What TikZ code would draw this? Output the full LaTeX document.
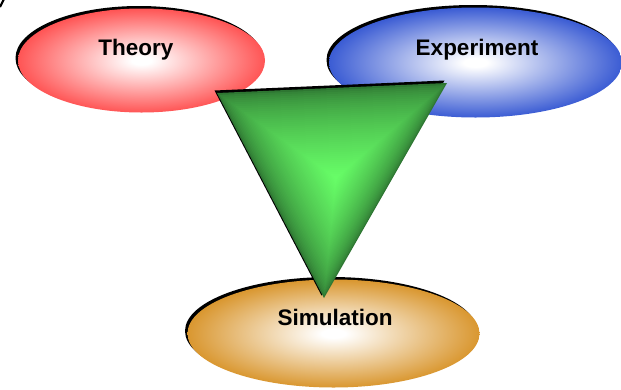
\documentclass[tikz,border=0pt]{standalone}
\usepackage{fontspec}
\setmainfont{Liberation Sans}
\usetikzlibrary{shapes.geometric,calc}
\definecolor{ellred}{RGB}{255,70,70}
\definecolor{ellblue}{RGB}{42,78,208}
\definecolor{ellorange}{RGB}{214,142,30}
\definecolor{gdark}{RGB}{46,118,50}
\definecolor{gbright}{RGB}{104,255,104}
\pgfdeclareradialshading{redsh}{\pgfpointorigin}{color(0bp)=(white); color(2bp)=(white); color(27bp)=(ellred); color(50bp)=(ellred)}
\pgfdeclareradialshading{bluesh}{\pgfpointorigin}{color(0bp)=(white); color(2bp)=(white); color(27bp)=(ellblue); color(50bp)=(ellblue)}
\pgfdeclareradialshading{orangesh}{\pgfpointorigin}{color(0bp)=(white); color(2bp)=(white); color(27bp)=(ellorange); color(50bp)=(ellorange)}
\tikzset{
  ell/.style={ellipse, inner sep=0pt, draw=none},
  ellshadow/.style={ell, fill=black},
  lbl/.style={font=\bfseries\fontsize{22.5}{26}\selectfont, inner sep=0pt, anchor=base}
}
\begin{document}
\begin{tikzpicture}[x=1pt,y=-1pt]
\useasboundingbox (0,0) rectangle (621,389);
% corner fragment
\draw[line width=2.2pt] (0,7) .. controls (1.5,3) .. (4,-1);
% Theory
\node[ellshadow, minimum width=247pt, minimum height=104pt] (thsh) at (139,58) {};
\node[ell, shading=redsh, minimum width=247pt, minimum height=104pt] (theory) at (141.5,60.5) {};
% Experiment
\node[ellshadow, minimum width=293pt, minimum height=110pt] (exsh) at (473,60) {};
\node[ell, shading=bluesh, minimum width=293pt, minimum height=110pt] (experiment) at (475.5,62.5) {};
% Simulation
\node[ellshadow, minimum width=292pt, minimum height=108pt] (simsh) at (331,331) {};
\node[ell, shading=orangesh, minimum width=292pt, minimum height=108pt] (simulation) at (333.5,333.5) {};
% labels
\node[lbl] (ltheory) at (136,55) {Theory};
\node[lbl] (lexp) at (477,55) {Experiment};
\node[lbl] (lsim) at (335,325) {Simulation};
% triangle
\coordinate (t1) at (217,93);
\coordinate (t2) at (447,83);
\coordinate (t3) at (324,298);
\coordinate (tc) at (336,178);
\fill[black] ([shift={(-2.5,-2.5)}]t1) -- ([shift={(-2.5,-2.5)}]t2) -- ([shift={(-2.5,-2.5)}]t3) -- cycle;
\foreach \i in {0,...,44}{
  \pgfmathsetmacro{\s}{1-\i/45}
  \pgfmathsetmacro{\p}{100*(1-\s)^0.6}
  \fill[gbright!\p!gdark] ($(tc)!\s!(t1)$) -- ($(tc)!\s!(t2)$) -- ($(tc)!\s!(t3)$) -- cycle;
}
\end{tikzpicture}
\end{document}
